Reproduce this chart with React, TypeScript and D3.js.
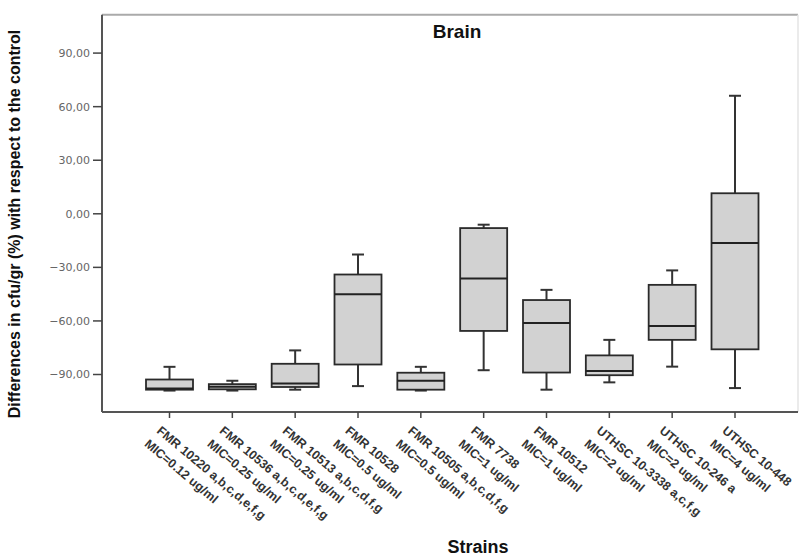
import React from "react";
import * as d3 from "d3";

const strainLine1 = [
  "FMR 10220 a,b,c,d,e,f,g",
  "FMR 10536 a,b,c,d,e,f,g",
  "FMR 10513 a,b,c,d,f,g",
  "FMR 10528",
  "FMR 10505 a,b,c,d,f,g",
  "FMR 7738",
  "FMR 10512",
  "UTHSC 10-3338 a,c,f,g",
  "UTHSC 10-246 a",
  "UTHSC 10-448",
];
const strainLine2 = [
  "MIC=0.12 ug/ml",
  "MIC=0.25 ug/ml",
  "MIC=0.25 ug/ml",
  "MIC=0.5 ug/ml",
  "MIC=0.5 ug/ml",
  "MIC=1 ug/ml",
  "MIC=1 ug/ml",
  "MIC=2 ug/ml",
  "MIC=2 ug/ml",
  "MIC=4 ug/ml",
];
const whiskerLow = [-99, -99, -98.5, -96.5, -99, -87.6, -98.5, -94.4, -85.6, -97.6];
const q1 = [-98.5, -98.3, -97, -84.4, -98.5, -65.6, -88.9, -90.4, -70.6, -75.9];
const median = [-97.8, -96.9, -95, -45, -93.5, -36.3, -61.1, -88, -62.8, -16.3];
const q3 = [-92.8, -95.4, -84, -34, -89, -8, -48.3, -79.3, -39.8, 11.5];
const whiskerHigh = [-85.7, -93.5, -76.5, -22.8, -85.7, -6.1, -42.6, -70.6, -31.7, 66.1];
const yTicks = [-90, -60, -30, 0, 30, 60, 90];

const W = 800;
const H = 558;
const left = 102;
const right = 798;
const top = 14.7;
const bottom = 412;

export default function App() {
  const y = d3.scaleLinear().domain([-111, 111.5]).range([bottom, top]);
  const x = d3.scalePoint<number>().domain(d3.range(strainLine1.length)).range([169.5, 735]);
  const boxW = 47;
  const capW = 12;
  const fmt = (v: number) => d3.format(".2f")(v).replace(".", ",");
  const sans = "Liberation Sans, Arial, sans-serif";

  return (
    <svg width={W} height={H} style={{ position: "absolute", left: 0, top: 0, background: "#fff" }}>
      {/* frame */}
      <line x1={left} x2={right} y1={top} y2={top} stroke="#aaa" strokeWidth={2} />
      <line x1={right} x2={right} y1={top} y2={bottom} stroke="#e4e4e4" strokeWidth={1.5} />
      <line x1={left} x2={left} y1={top} y2={bottom} stroke="#555" strokeWidth={2} />
      <line x1={left} x2={right} y1={bottom} y2={bottom} stroke="#555" strokeWidth={2} />

      {/* y ticks */}
      {yTicks.map((t) => (
        <g key={t}>
          <line x1={left - 9} x2={left} y1={y(t)} y2={y(t)} stroke="#444" strokeWidth={1.5} />
          <text x={left - 12} y={y(t)} dy="0.35em" textAnchor="end" fontFamily="DejaVu Sans, sans-serif" fontSize={11} fill="#666">
            {fmt(t)}
          </text>
        </g>
      ))}

      {/* boxes */}
      {strainLine1.map((_, i) => {
        const cx = x(i)!;
        return (
          <g key={i}>
            <line x1={cx} x2={cx} y1={y(whiskerHigh[i])} y2={y(q3[i])} stroke="#333" strokeWidth={2} />
            <line x1={cx} x2={cx} y1={y(q1[i])} y2={y(whiskerLow[i])} stroke="#333" strokeWidth={2} />
            <line x1={cx - capW / 2} x2={cx + capW / 2} y1={y(whiskerHigh[i])} y2={y(whiskerHigh[i])} stroke="#333" strokeWidth={2} />
            <line x1={cx - capW / 2} x2={cx + capW / 2} y1={y(whiskerLow[i])} y2={y(whiskerLow[i])} stroke="#333" strokeWidth={2} />
            <rect x={cx - boxW / 2} y={y(q3[i])} width={boxW} height={y(q1[i]) - y(q3[i])} fill="#d2d2d2" stroke="#2a2a2a" strokeWidth={1.8} />
            <line x1={cx - boxW / 2} x2={cx + boxW / 2} y1={y(median[i])} y2={y(median[i])} stroke="#222" strokeWidth={2} />
            {/* x tick */}
            <line x1={cx} x2={cx} y1={bottom} y2={bottom + 6} stroke="#444" strokeWidth={1.5} />
            <text transform={`translate(${cx - 13.5},${bottom + 20}) rotate(40)`} fontFamily={sans} fontWeight="bold" fontSize={12.5} fill="#333">
              <tspan x={0} y={0}>{strainLine1[i]}</tspan>
              <tspan x={-1} y={18}>{strainLine2[i]}</tspan>
            </text>
          </g>
        );
      })}

      {/* titles */}
      <text x={457} y={38} textAnchor="middle" fontFamily={sans} fontWeight="bold" fontSize={19} fill="#111">
        Brain
      </text>
      <text x={478} y={553} textAnchor="middle" fontFamily={sans} fontWeight="bold" fontSize={18} fill="#111">
        Strains
      </text>
      <text transform={`translate(20,224) rotate(-90)`} textAnchor="middle" fontFamily={sans} fontWeight="bold" fontSize={16} fill="#111">
        Differences in cfu/gr (%) with respect to the control
      </text>
    </svg>
  );
}
